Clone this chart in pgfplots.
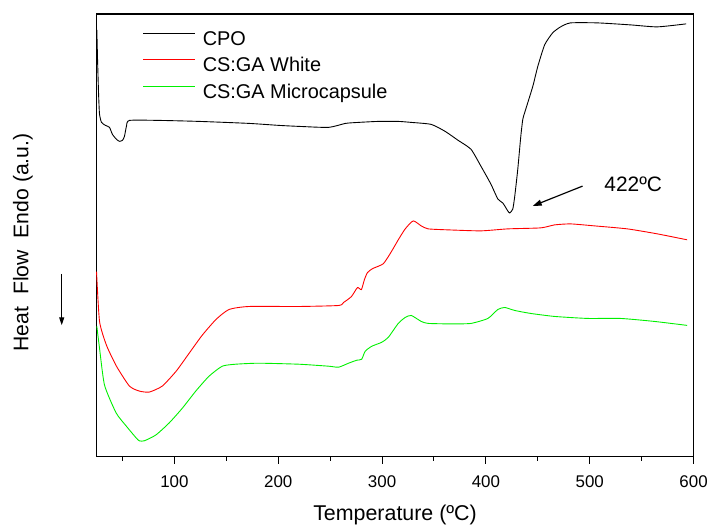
\documentclass[border=0pt]{standalone}
\usepackage{pgfplots}
\pgfplotsset{compat=1.18}
\usepackage{fontspec}
\setmainfont{Liberation Sans}
\usetikzlibrary{arrows.meta}
\definecolor{myred}{RGB}{255,0,0}
\definecolor{mygreen}{RGB}{0,240,0}
\begin{document}
\begin{tikzpicture}
\begin{axis}[
  name=ax,
  scale only axis, width=600pt, height=445pt,
  xmin=25, xmax=600, ymin=1, ymax=446,
  clip=false,
  axis line style={line width=1.3pt},
  xtick={100,200,...,600}, minor xtick={50,150,...,550},
  ytick=\empty, minor ytick={24,46,...,442},
  xtick pos=bottom, ytick pos=left,
  xtick align=outside, ytick align=inside,
  major tick length=7pt, minor tick length=4pt,
  every tick/.style={black, line width=1pt},
  /pgf/number format/assume math mode=true,
  tick label style={font=\fontsize{17}{20}\selectfont},
  xticklabel style={yshift=-8pt},
  xlabel={Temperature (ºC)},
  xlabel style={font=\fontsize{21.5}{24}\selectfont, at={(axis description cs:0.5,0)}, anchor=center, yshift=-59pt},
  ylabel={Heat\ \ Flow\ \ Endo (a.u.)},
  ylabel style={font=\fontsize{21.3}{24}\selectfont, at={(axis description cs:-0.1233,0.484)}, anchor=center, rotate=0},
  legend style={draw=none, fill=none, at={(axis description cs:0.0767,0.963)}, anchor=north west,
    font=\fontsize{20}{24}\selectfont, inner sep=0pt, row sep=6.5pt,
    nodes={inner sep=0pt, text height=15pt, text depth=5pt}},
  legend cell align=left,
  legend image code/.code={\draw[#1, line width=1pt] (0pt,7pt) -- (52pt,7pt);},
  legend columns=1,
]
\addplot[black, line width=0.9pt, smooth, tension=0.35] coordinates {
(25.3,430)(26,400)(27,365)(27.9,345)(29.8,337)(33.6,334)(37.5,332)(40.3,325)(44.2,320)(47.1,318)(50,319)(51.9,323)(53.8,333)(56.7,339)(85.4,339)(123.8,338)(171.7,336)(200.5,334)(219.7,333)(248.5,332)(264.8,336)(277.3,337)(296.4,338)(315.6,338)(328.1,337)(347.3,335)(360.7,328)(373.2,319)(385.6,310)(395.2,293)(404.8,275)(411.5,260)(416.3,256)(421.1,248)(423,246)(425.9,250)(427.8,263)(430.7,290)(433.6,323)(435.5,340)(437.4,347)(445.1,373)(449.9,393)(456.6,415)(464.3,427)(471.9,433)(481.5,437)(507.5,437)(539.1,435)(565,433)(592.8,436)
};
\addlegendentry{\hspace{2pt}\ CPO}
\addplot[myred, line width=0.9pt, smooth, tension=0.35] coordinates {
(25,187)(27.9,137)(34.6,113)(44.2,92)(56.7,72)(66.2,67)(75.8,66)(88.3,72)(101.7,87)(114.2,105)(126.7,123)(140.1,139)(152.6,149)(171.7,152)(219.7,152)(258.1,153)(262.9,156)(270.5,162)(276.3,171)(280.1,169)(283,179)(285.9,186)(290.7,190)(301.2,195)(308.9,207)(315.6,219)(322.3,230)(330,238)(337.7,233)(344.4,230)(363.6,229)(395.2,228)(421.1,230)(452.8,231)(466.1,234)(481.5,235)(504.6,233)(536.2,230)(565,225)(593.8,219)
};
\addlegendentry{\hspace{2pt}\ CS:GA White}
\addplot[mygreen, line width=0.9pt, smooth, tension=0.35] coordinates {
(25.3,132)(27.9,110)(32.7,73)(43.9,45)(53.5,32)(63.1,20)(66.2,17)(71,17)(82.3,23)(95,35)(107.8,50)(120.6,67)(133.4,82)(146.1,92)(159,94)(181.3,95)(219.7,94)(248.5,92)(258.1,91)(267.7,95)(275.6,98)(280.4,99)(283.7,107)(290,112)(299.6,116)(306,121)(315.6,135)(322.3,141)(328.1,143)(337.7,137)(344.4,135)(366.5,134.5)(385.6,135)(401.9,140)(411.5,149)(418.2,151)(427.8,148)(443.2,145)(466.1,142)(497.9,140)(529.5,140)(562.1,137)(593.8,133)
};
\addlegendentry{\hspace{2pt}\ CS:GA Microcapsule}
\draw[line width=1.2pt, -{Triangle[length=9pt,width=6pt]}] (axis cs:493.1,273) -- (axis cs:445.1,253);
\node[anchor=west, inner sep=0pt, font=\fontsize{21}{24}\selectfont] at (axis cs:514,275) {422ºC};
\draw[line width=1.2pt, -{Triangle[length=8pt,width=5pt]}] (axis description cs:-0.0583,0.413) -- (axis description cs:-0.0583,0.297);
\end{axis}
\path[use as bounding box] ([xshift=-97pt,yshift=-68pt]ax.south west) rectangle ([xshift=14pt,yshift=14pt]ax.north east);
\end{tikzpicture}
\end{document}
